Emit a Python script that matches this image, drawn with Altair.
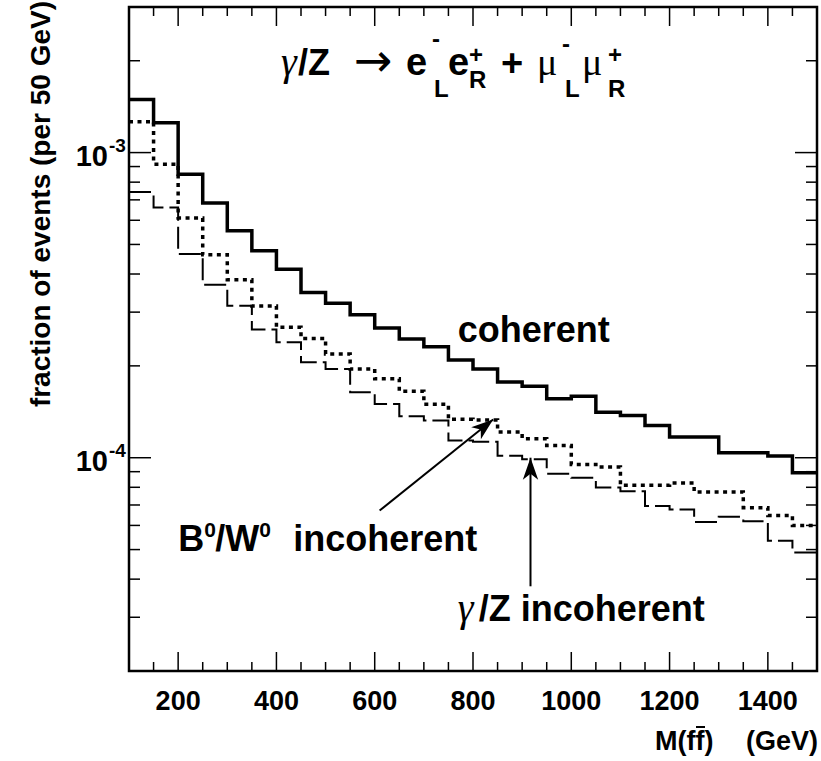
import altair as alt
import pandas as pd

# ---------------- data ----------------
bin_low = [100, 150, 200, 250, 300, 350, 400, 450, 500, 550, 600, 650, 700,
           750, 800, 850, 900, 950, 1000, 1050, 1100, 1150, 1200, 1250, 1300,
           1350, 1400, 1450]
bin_last_edge = 1500

coherent = [1.494e-3, 1.253e-3, 0.849e-3, 0.683e-3, 0.554e-3, 0.477e-3,
            0.415e-3, 0.348e-3, 0.321e-3, 0.294e-3, 0.266e-3, 0.245e-3,
            0.231e-3, 0.209e-3, 0.1955e-3, 0.177e-3, 0.1716e-3, 0.156e-3,
            0.159e-3, 0.141e-3, 0.1375e-3, 0.1276e-3, 0.117e-3, 0.117e-3,
            0.1038e-3, 0.1038e-3, 0.1013e-3, 0.0893e-3]

bw_incoherent = [1.263e-3, 0.916e-3, 0.610e-3, 0.4624e-3, 0.383e-3, 0.3144e-3,
                 0.2677e-3, 0.246e-3, 0.2189e-3, 0.1955e-3, 0.1813e-3, 0.165e-3,
                 0.1496e-3, 0.1338e-3, 0.1329e-3, 0.1214e-3, 0.1154e-3, 0.1097e-3,
                 0.0951e-3, 0.0932e-3, 0.0812e-3, 0.0812e-3, 0.0826e-3, 0.0772e-3,
                 0.0772e-3, 0.0686e-3, 0.0647e-3, 0.0600e-3]

gz_incoherent = [0.743e-3, 0.6607e-3, 0.4648e-3, 0.3688e-3, 0.315e-3, 0.2632e-3,
                 0.239e-3, 0.2056e-3, 0.1955e-3, 0.164e-3, 0.1501e-3, 0.1367e-3,
                 0.1324e-3, 0.1139e-3, 0.1128e-3, 0.1015e-3, 0.0989e-3, 0.0886e-3,
                 0.0860e-3, 0.0798e-3, 0.0776e-3, 0.0695e-3, 0.0677e-3, 0.0616e-3,
                 0.0640e-3, 0.0619e-3, 0.0534e-3, 0.0489e-3]

x_major = [200, 400, 600, 800, 1000, 1200, 1400]
x_major_labels = ["200", "400", "600", "800", "1000", "1200", "1400"]
x_minor = [150, 250, 300, 350, 450, 500, 550, 650, 700, 750, 850, 900, 950,
           1050, 1100, 1150, 1250, 1300, 1350, 1450]
y_major = [1e-4, 1e-3]
y_major_base = ["10", "10"]
y_major_exp = ["-4", "-3"]
y_minor = [2e-5, 3e-5, 4e-5, 5e-5, 6e-5, 7e-5, 8e-5, 9e-5,
           2e-4, 3e-4, 4e-4, 5e-4, 6e-4, 7e-4, 8e-4, 9e-4, 2e-3]

# annotation anchors (data coordinates)
coh_label = {"x": [769], "y": [2.40e-4]}
bw_label = {"x": [200], "y": [4.96e-5]}
gz_label = {"x": [763], "y": [2.91e-5]}
bw_arrow = {"x": [610], "y": [6.71e-5], "x2": [841], "y2": [1.335e-4]}
gz_arrow = {"x": [917], "y": [3.79e-5], "x2": [917], "y2": [1.0e-4]}

# ---------------- styling ----------------
W, H = 688, 664
SANS = "Liberation Sans"
SERIF = "Liberation Serif"
xs = alt.Scale(domain=[100, 1500], nice=False, zero=False)
ys = alt.Scale(type="log", domain=[2e-5, 3e-3], nice=False)
ARROW = "M0,0 L0.7,2 L0,1.45 L-0.7,2 Z"


def steps(vals):
    return pd.DataFrame({"m": bin_low + [bin_last_edge], "v": vals + [vals[-1]]})


def hist(vals, width, dash=None):
    kw = dict(interpolate="step-after", color="black", strokeWidth=width)
    if dash:
        kw["strokeDash"] = dash
    return alt.Chart(steps(vals)).mark_line(**kw).encode(
        x=alt.X("m:Q", scale=xs, axis=None), y=alt.Y("v:Q", scale=ys, axis=None))


line_coh = hist(coherent, 3.5)
line_bw = hist(bw_incoherent, 3.5, [4, 4.5])
line_gz = hist(gz_incoherent, 2, [22, 6])


def xticks(vals, length, top):
    y0 = 0 if top else H
    y1 = length if top else H - length
    return alt.Chart(pd.DataFrame({"t": vals})).mark_rule(color="black", strokeWidth=1.5).encode(
        x=alt.X("t:Q", scale=xs, axis=None), y=alt.value(y0), y2=alt.value(y1))


def yticks(vals, length, right):
    x0 = W if right else 0
    x1 = W - length if right else length
    return alt.Chart(pd.DataFrame({"t": vals})).mark_rule(color="black", strokeWidth=1.5).encode(
        y=alt.Y("t:Q", scale=ys, axis=None), x=alt.value(x0), x2=alt.value(x1))


ticks = [xticks(x_major, 19, False), xticks(x_minor, 9, False),
         xticks(x_major, 19, True), xticks(x_minor, 9, True),
         yticks(y_major, 22, False), yticks(y_minor, 11, False),
         yticks(y_major, 22, True), yticks(y_minor, 11, True)]

xlab = alt.Chart(pd.DataFrame({"t": x_major, "s": x_major_labels})).mark_text(
    align="center", baseline="alphabetic", font=SANS, fontWeight="bold", fontSize=27,
    color="black").encode(
    x=alt.X("t:Q", scale=xs, axis=None), y=alt.value(H + 39), text="s:N")

ylab_df = pd.DataFrame({"t": y_major, "e": y_major_exp, "b": y_major_base})
ylab_base = alt.Chart(ylab_df).mark_text(
    align="right", baseline="alphabetic", font=SANS, fontWeight="bold", fontSize=29,
    color="black", dy=13).encode(
    x=alt.value(-21), y=alt.Y("t:Q", scale=ys, axis=None), text="b:N")
ylab_exp = alt.Chart(ylab_df).mark_text(
    align="left", baseline="alphabetic", font=SANS, fontWeight="bold", fontSize=19,
    color="black", dy=-1).encode(
    x=alt.value(-20), y=alt.Y("t:Q", scale=ys, axis=None), text="e:N")


def ptext(s, x, y, size, font=SANS, weight="bold", align="left", angle=0, style="normal"):
    return alt.Chart(pd.DataFrame({"s": [s]})).mark_text(
        align=align, baseline="alphabetic", font=font, fontWeight=weight,
        fontSize=size, color="black", angle=angle, fontStyle=style).encode(
        x=alt.value(x), y=alt.value(y), text="s:N")


def dtext(anchor, s, size, dx=0, dy=0, font=SANS, weight="bold", style="normal"):
    return alt.Chart(pd.DataFrame({"x": anchor["x"], "y": anchor["y"], "s": [s]})).mark_text(
        align="left", baseline="alphabetic", font=font, fontWeight=weight,
        fontSize=size, color="black", dx=dx, dy=dy, fontStyle=style).encode(
        x=alt.X("x:Q", scale=xs, axis=None), y=alt.Y("y:Q", scale=ys, axis=None),
        text="s:N")


ytitle = ptext("fraction of events (per 50 GeV)", -79, -6, 28, align="right", angle=270)
xtitle_a = ptext("M(ff)", 526, 743, 27)
xtitle_b = ptext("(GeV)", W + 1, 743, 27, align="right")
xtitle_bar = alt.Chart(pd.DataFrame({"k": [0]})).mark_rule(color="black", strokeWidth=2).encode(
    x=alt.value(567), x2=alt.value(576), y=alt.value(720))

title = [
    ptext("\u03b3", 152, 68, 40, font=SERIF, weight="normal", style="italic"),
    ptext("/Z", 169, 68, 36),
    ptext("\u2192", 225, 69, 46, font="DejaVu Sans", weight="normal"),
    ptext("e", 277, 68, 38),
    ptext("-", 303, 40, 24),
    ptext("L", 305, 90, 24),
    ptext("e", 319, 68, 38),
    ptext("+", 340, 56, 24),
    ptext("R", 340, 81, 24),
    ptext("+", 372, 69, 38),
    ptext("\u03bc", 408, 68, 38, font=SERIF, weight="normal"),
    ptext("-", 433, 45, 24),
    ptext("L", 436, 90, 24),
    ptext("\u03bc", 453, 68, 38, font=SERIF, weight="normal"),
    ptext("+", 479, 56, 24),
    ptext("R", 479, 90, 24),
]

labels = [
    dtext(coh_label, "coherent", 36),
    dtext(bw_label, "B", 36),
    dtext(bw_label, "0", 21, dx=26, dy=-14),
    dtext(bw_label, "/W", 36, dx=37),
    dtext(bw_label, "0", 21, dx=81, dy=-14),
    dtext(bw_label, "incoherent", 36, dx=115),
    dtext(gz_label, "\u03b3", 40, dx=3, font=SERIF, weight="normal", style="italic"),
    dtext(gz_label, "/Z incoherent", 36, dx=24),
]


def arrow(a):
    return alt.Chart(pd.DataFrame(a)).mark_rule(color="black", strokeWidth=2).encode(
        x=alt.X("x:Q", scale=xs, axis=None), y=alt.Y("y:Q", scale=ys, axis=None),
        x2="x2:Q", y2="y2:Q")


def head(a, angle):
    return alt.Chart(pd.DataFrame(a)).mark_point(
        shape=ARROW, filled=True, color="black", opacity=1, size=484, angle=angle,
        strokeWidth=0).encode(
        x=alt.X("x2:Q", scale=xs, axis=None), y=alt.Y("y2:Q", scale=ys, axis=None))


chart = alt.layer(
    line_coh, line_bw, line_gz, *ticks, xlab, ylab_base, ylab_exp, ytitle,
    xtitle_a, xtitle_b, xtitle_bar, *title, *labels,
    arrow(bw_arrow), arrow(gz_arrow), head(bw_arrow, 51), head(gz_arrow, 0)
).properties(
    width=W, height=H,
    padding={"left": 129, "top": 7, "right": 4, "bottom": 90},
    autosize=alt.AutoSizeParams(type="none"),
    background="white",
).configure_view(stroke="black", strokeWidth=2.5)

chart.save("out.html", embed_options={"renderer": "svg", "actions": False})
